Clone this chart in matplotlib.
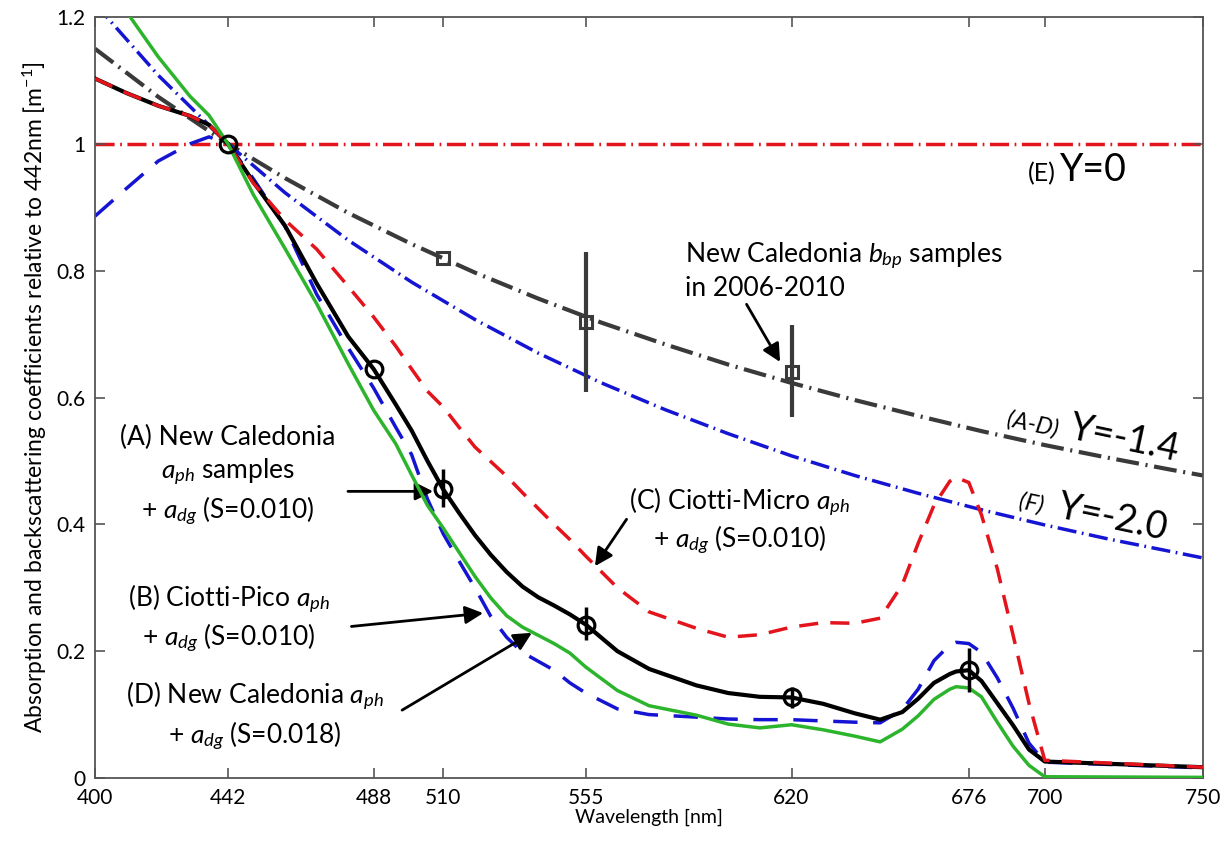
import matplotlib
matplotlib.use('Agg')
import matplotlib.pyplot as plt
import numpy as np

plt.rcParams['font.family'] = ['Lato', 'DejaVu Sans']
plt.rcParams['mathtext.fontset'] = 'custom'
plt.rcParams['mathtext.rm'] = 'Lato'
plt.rcParams['mathtext.it'] = 'Lato:italic'

# wavelength grid of the absorption curves [nm]
wl = [400, 410, 420, 430, 436, 442, 450, 460, 470, 480, 488, 495, 500, 505, 510,
      515, 520, 525, 530, 535, 540, 545, 550, 555, 565, 575, 590, 600, 610, 620,
      630, 640, 648, 655, 660, 665, 670, 672, 676, 680, 685, 690, 695, 700, 750]

# (A) New Caledonia aph samples + adg (S=0.010)
curve_a = [1.103, 1.080, 1.060, 1.044, 1.030, 1.0, 0.940, 0.871, 0.780, 0.696, 0.645,
           0.589, 0.548, 0.500, 0.455, 0.418, 0.383, 0.352, 0.325, 0.302, 0.285, 0.272,
           0.258, 0.242, 0.200, 0.172, 0.146, 0.134, 0.128, 0.127, 0.117, 0.102, 0.092,
           0.104, 0.125, 0.150, 0.164, 0.168, 0.170, 0.153, 0.118, 0.083, 0.045, 0.026,
           0.017]
# (B) Ciotti-Pico aph + adg (S=0.010)
curve_b = [0.886, 0.930, 0.973, 1.000, 1.011, 1.0, 0.945, 0.870, 0.763, 0.678, 0.615,
           0.553, 0.510, 0.440, 0.385, 0.342, 0.300, 0.255, 0.222, 0.198, 0.184, 0.170,
           0.150, 0.134, 0.109, 0.100, 0.096, 0.093, 0.092, 0.092, 0.090, 0.088, 0.087,
           0.108, 0.140, 0.185, 0.210, 0.214, 0.212, 0.198, 0.158, 0.110, 0.055, 0.025,
           0.016]
# (C) Ciotti-Micro aph + adg (S=0.010)
curve_c = [1.103, 1.080, 1.060, 1.044, 1.030, 1.0, 0.938, 0.880, 0.834, 0.775, 0.727,
           0.681, 0.645, 0.610, 0.585, 0.553, 0.522, 0.499, 0.476, 0.450, 0.425, 0.400,
           0.376, 0.350, 0.300, 0.262, 0.236, 0.222, 0.226, 0.238, 0.245, 0.244, 0.252,
           0.305, 0.370, 0.430, 0.468, 0.474, 0.466, 0.415, 0.330, 0.225, 0.118, 0.028,
           0.017]
# (D) New Caledonia aph + adg (S=0.018)
curve_d = [1.290, 1.208, 1.137, 1.075, 1.045, 1.0, 0.920, 0.835, 0.748, 0.653, 0.580,
           0.527, 0.478, 0.430, 0.394, 0.356, 0.318, 0.284, 0.256, 0.238, 0.225, 0.212,
           0.197, 0.175, 0.138, 0.114, 0.099, 0.085, 0.079, 0.084, 0.076, 0.066, 0.057,
           0.077, 0.098, 0.124, 0.140, 0.144, 0.142, 0.128, 0.088, 0.050, 0.020, 0.002,
           0.001]

# backscattering spectral shapes
wl_bb = [400, 420, 442, 460, 480, 500, 520, 540, 560, 580, 600, 620, 640, 660, 680,
         700, 720, 740, 750]
bb_y14 = [1.150, 1.074, 1.0, 0.946, 0.891, 0.842, 0.797, 0.756, 0.718, 0.684, 0.652,
          0.623, 0.596, 0.571, 0.547, 0.525, 0.505, 0.486, 0.477]
bb_y20 = [1.221, 1.108, 1.0, 0.923, 0.848, 0.782, 0.723, 0.670, 0.623, 0.581, 0.543,
          0.508, 0.477, 0.449, 0.423, 0.399, 0.377, 0.357, 0.347]
bb_y0 = [1.0] * len(wl_bb)

# sample points with ranges
pts_wl = [442, 488, 510, 555, 620, 676]
pts_a = [1.0, 0.645, 0.455, 0.242, 0.127, 0.171]
pts_a_lo = [1.0, 0.645, 0.427, 0.218, 0.111, 0.136]
pts_a_hi = [1.0, 0.645, 0.487, 0.269, 0.144, 0.205]

bbp_wl = [510, 555, 620]
bbp = [0.82, 0.719, 0.641]
bbp_lo = [0.82, 0.608, 0.569]
bbp_hi = [0.82, 0.829, 0.714]

xticks = [400, 442, 488, 510, 555, 620, 676, 700, 750]
yticks = [0, 0.2, 0.4, 0.6, 0.8, 1.0, 1.2]
ylabels = ['0', '0.2', '0.4', '0.6', '0.8', '1', '1.2']

fig = plt.figure(figsize=(12.26, 8.43), dpi=100)
ax = fig.add_axes([0.0775, 0.0771, 0.9038, 0.9027])

red = '#e3141c'
blue = '#1414d2'
green = '#2db42d'
grey = '#3a3a3a'
dd = (5.5, 1.6, 0.5, 1.6)

ax.plot(wl_bb, bb_y0, color=red, lw=2.5, dashes=dd, zorder=1)
ax.plot(wl_bb, bb_y14, color=grey, lw=3, dashes=dd, zorder=1)
ax.plot(wl_bb, bb_y20, color=blue, lw=2.5, dashes=dd, zorder=1)

ax.plot(wl, curve_b, color=blue, lw=2.5, dashes=(7, 4.5), zorder=2)
ax.plot(wl, curve_a, color='k', lw=3, zorder=3, solid_joinstyle='round')
ax.plot(wl, curve_c, color=red, lw=2.5, dashes=(5.5, 3.5), zorder=4)
ax.plot(wl, curve_d, color=green, lw=2.5, zorder=4, solid_joinstyle='round')

a_err = [np.array(pts_a) - np.array(pts_a_lo), np.array(pts_a_hi) - np.array(pts_a)]
ax.errorbar(pts_wl, pts_a, yerr=a_err, fmt='none', ecolor='k', elinewidth=2.5, zorder=5)
ax.plot(pts_wl, pts_a, 'o', ms=12, mfc='none', mec='k', mew=2.3, zorder=5)

b_err = [np.array(bbp) - np.array(bbp_lo), np.array(bbp_hi) - np.array(bbp)]
ax.errorbar(bbp_wl, bbp, yerr=b_err, fmt='none', ecolor=grey, elinewidth=3, zorder=5)
ax.plot(bbp_wl, bbp, 's', ms=8, mfc='none', mec=grey, mew=2.2, zorder=5)

ax.set_xlim(400, 750)
ax.set_ylim(0, 1.2)
ax.set_xticks(xticks)
ax.set_yticks(yticks)
ax.set_yticklabels(ylabels)
ax.tick_params(direction='in', top=True, right=True, length=7, width=1.2,
               color='#555555', labelsize=15, pad=7)
for s in ax.spines.values():
    s.set_color('#555555')
    s.set_linewidth(1.3)

ax.set_xlabel('Wavelength [nm]', fontsize=14, labelpad=1)
ax.set_ylabel('Absorption and backscattering coefficients relative to 442nm [m$^{-1}$]',
              fontsize=16.5, labelpad=5)

fs = 19
arrow = dict(arrowstyle='-|>', color='k', lw=2, mutation_scale=27, shrinkA=0, shrinkB=0)

ax.text(442, 0.4755, '(A) New Caledonia\n$a_{ph}$ samples\n+ $a_{dg}$ (S=0.010)',
        fontsize=fs, ha='center', va='center', linespacing=1.3)
ax.annotate('', xy=(506.8, 0.452), xytext=(479.9, 0.452), arrowprops=arrow)

ax.text(442.3, 0.251, '(B) Ciotti-Pico $a_{ph}$\n+ $a_{dg}$ (S=0.010)',
        fontsize=fs, ha='center', va='center', linespacing=1.25)
ax.annotate('', xy=(522.6, 0.26), xytext=(481, 0.239), arrowprops=arrow)

ax.text(450.5, 0.097, '(D) New Caledonia $a_{ph}$\n+ $a_{dg}$ (S=0.018)',
        fontsize=fs, ha='center', va='center', linespacing=1.25)
ax.annotate('', xy=(538, 0.229), xytext=(497, 0.107), arrowprops=arrow)

ax.text(603.7, 0.404, '(C) Ciotti-Micro $a_{ph}$\n+ $a_{dg}$ (S=0.010)',
        fontsize=fs, ha='center', va='center', linespacing=1.2)
ax.annotate('', xy=(557.9, 0.334), xytext=(567.9, 0.408), arrowprops=arrow)

ax.text(586.4, 0.80, 'New Caledonia $b_{bp}$ samples\nin 2006-2010',
        fontsize=fs, ha='left', va='center', linespacing=1.2)
ax.annotate('', xy=(616.4, 0.656), xytext=(605.8, 0.747), arrowprops=arrow)

ax.text(694.7, 0.9415, '(E)', fontsize=18, ha='left', va='baseline')
ax.text(704.8, 0.9415, 'Y=0', fontsize=27, ha='left', va='baseline')

ax.text(687.7, 0.556, '(A-D)', fontsize=17, style='italic', ha='left', va='baseline',
        rotation=-12, rotation_mode='anchor')
ax.text(707.3, 0.5355, 'Y=-1.4', fontsize=27, ha='left', va='baseline',
        rotation=-12, rotation_mode='anchor')
ax.text(691.5, 0.4265, '(F)', fontsize=17, style='italic', ha='left', va='baseline',
        rotation=-12, rotation_mode='anchor')
ax.text(703.5, 0.412, 'Y=-2.0', fontsize=27, ha='left', va='baseline',
        rotation=-12, rotation_mode='anchor')

fig.savefig('out.png', dpi=100)
